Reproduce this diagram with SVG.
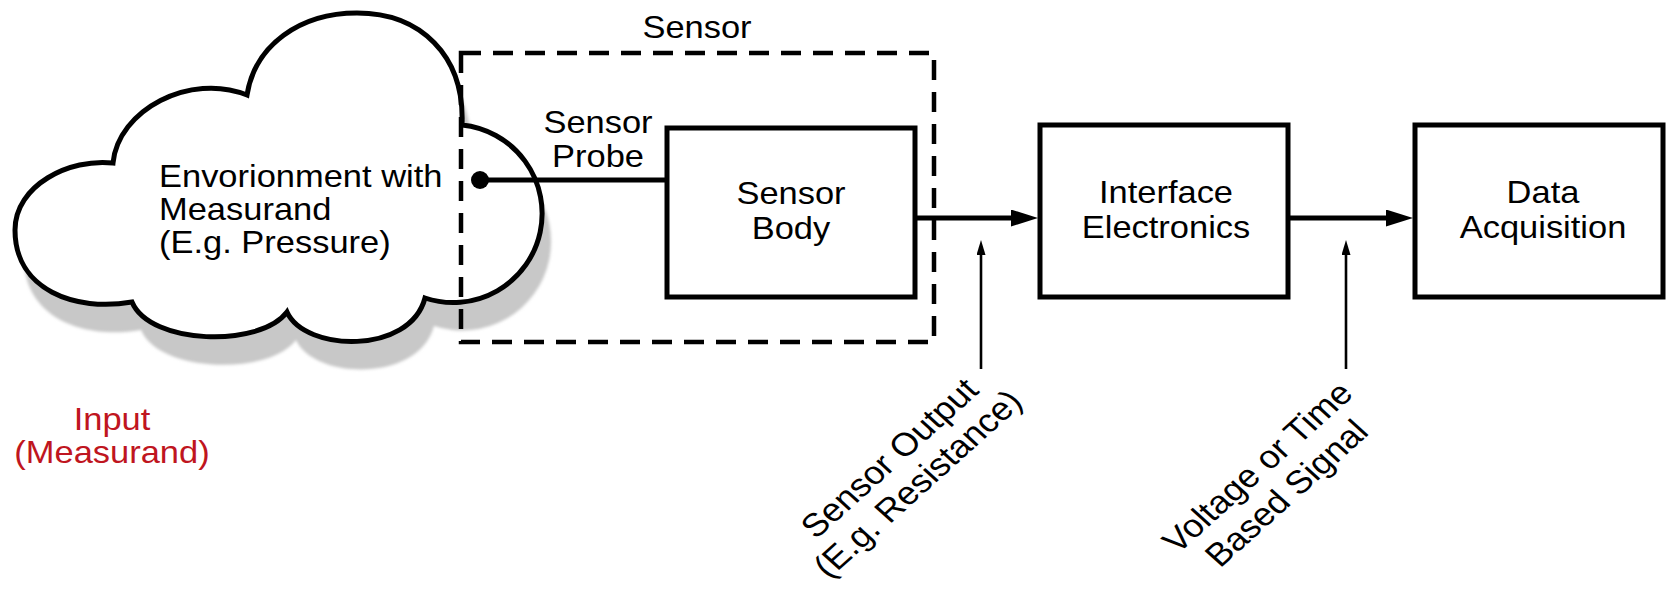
<svg xmlns="http://www.w3.org/2000/svg" width="1674" height="600" viewBox="0 0 1674 600">
  <style>
    .t { font-family: "Liberation Sans", Arial, Helvetica, sans-serif; font-size: 30.5px; fill: #000; }
    .r { font-size: 32.5px; }
    .red { fill: #bf1520; }
    .box { fill: #fff; stroke: #000; stroke-width: 5; }
    .thick { stroke: #000; stroke-width: 5; fill: none; }
    .thin { stroke: #000; stroke-width: 2.6; fill: none; }
  </style>
  <defs>
    <marker id="headBig" markerUnits="userSpaceOnUse" markerWidth="28" markerHeight="18" refX="0" refY="8.5" orient="auto">
      <path d="M0,0 L27,8.5 L0,17 Z" fill="#000"/>
    </marker>
    <marker id="headSmall" markerUnits="userSpaceOnUse" markerWidth="16" markerHeight="10" refX="0" refY="4.5" orient="auto">
      <path d="M0,0 L15,4.5 L0,9 Z" fill="#000"/>
    </marker>
    <filter id="soft" x="-10%" y="-10%" width="120%" height="120%">
      <feGaussianBlur stdDeviation="1.5"/>
    </filter>
    <path id="cloudShape" d="M113,163 C70,158 15,185 15,230 C15,290 75,312 132,302 C150,345 260,348 287,312 C305,352 410,355 425,298 A89,89 0 1 0 462,125 C465,55 420,13 357,13 C300,13 255,45 247,95 C190,72 118,110 113,163 Z"/>
  </defs>

  <g id="environment">
    <use href="#cloudShape" transform="translate(9,28)" fill="#c8c8c8" filter="url(#soft)"/>
    <use href="#cloudShape" fill="#fff" stroke="#000" stroke-width="5" stroke-linejoin="miter"/>
    <text class="t" transform="matrix(1.13 0 0 1 159 187)"><tspan x="0" y="0">Envorionment with</tspan><tspan x="0" y="33">Measurand</tspan><tspan x="0" y="66">(E.g. Pressure)</tspan></text>
  </g>

  <g id="sensor">
    <rect x="461" y="53" width="473" height="289" fill="none" stroke="#000" stroke-width="4.5" stroke-dasharray="20 12"/>
    <text class="t" text-anchor="middle" transform="matrix(1.13 0 0 1 697 38)">Sensor</text>
  </g>

  <g id="sensor-probe">
    <line class="thick" x1="480" y1="180" x2="666" y2="180"/>
    <circle cx="480" cy="180" r="9" fill="#000"/>
    <text class="t" text-anchor="middle" transform="matrix(1.13 0 0 1 598 133)"><tspan x="0" y="0">Sensor</tspan><tspan x="0" y="34">Probe</tspan></text>
  </g>

  <g id="sensor-body">
    <rect class="box" x="667" y="128" width="248" height="169"/>
    <text class="t" text-anchor="middle" transform="matrix(1.13 0 0 1 791 204)"><tspan x="0" y="0">Sensor</tspan><tspan x="0" y="35">Body</tspan></text>
  </g>

  <g id="interface-electronics">
    <rect class="box" x="1040" y="125" width="248" height="172"/>
    <text class="t" text-anchor="middle" transform="matrix(1.13 0 0 1 1166 203)"><tspan x="0" y="0">Interface</tspan><tspan x="0" y="35">Electronics</tspan></text>
  </g>

  <g id="data-acquisition">
    <rect class="box" x="1415" y="125" width="248" height="172"/>
    <text class="t" text-anchor="middle" transform="matrix(1.13 0 0 1 1543 203)"><tspan x="0" y="0">Data</tspan><tspan x="0" y="35">Acquisition</tspan></text>
  </g>

  <g id="connectors">
    <line class="thick" x1="915" y1="218" x2="1011" y2="218" marker-end="url(#headBig)"/>
    <line class="thick" x1="1288" y1="218" x2="1386" y2="218" marker-end="url(#headBig)"/>
    <line class="thin" x1="981" y1="369" x2="981" y2="255" marker-end="url(#headSmall)"/>
    <line class="thin" x1="1346" y1="369" x2="1346" y2="255" marker-end="url(#headSmall)"/>
  </g>

  <g id="label-sensor-output">
    <text class="t r" text-anchor="middle" transform="translate(898,466) scale(1.11,1) rotate(-45)"><tspan x="0" y="0">Sensor Output</tspan><tspan x="0" y="36">(E.g. Resistance)</tspan></text>
  </g>

  <g id="label-voltage">
    <text class="t r" text-anchor="middle" transform="translate(1266,475) scale(1.11,1) rotate(-45)"><tspan x="0" y="0">Voltage or Time</tspan><tspan x="0" y="37">Based Signal</tspan></text>
  </g>

  <g id="label-input">
    <text class="t red" text-anchor="middle" transform="matrix(1.13 0 0 1 112 430)"><tspan x="0" y="0">Input</tspan><tspan x="0" y="33">(Measurand)</tspan></text>
  </g>
</svg>
